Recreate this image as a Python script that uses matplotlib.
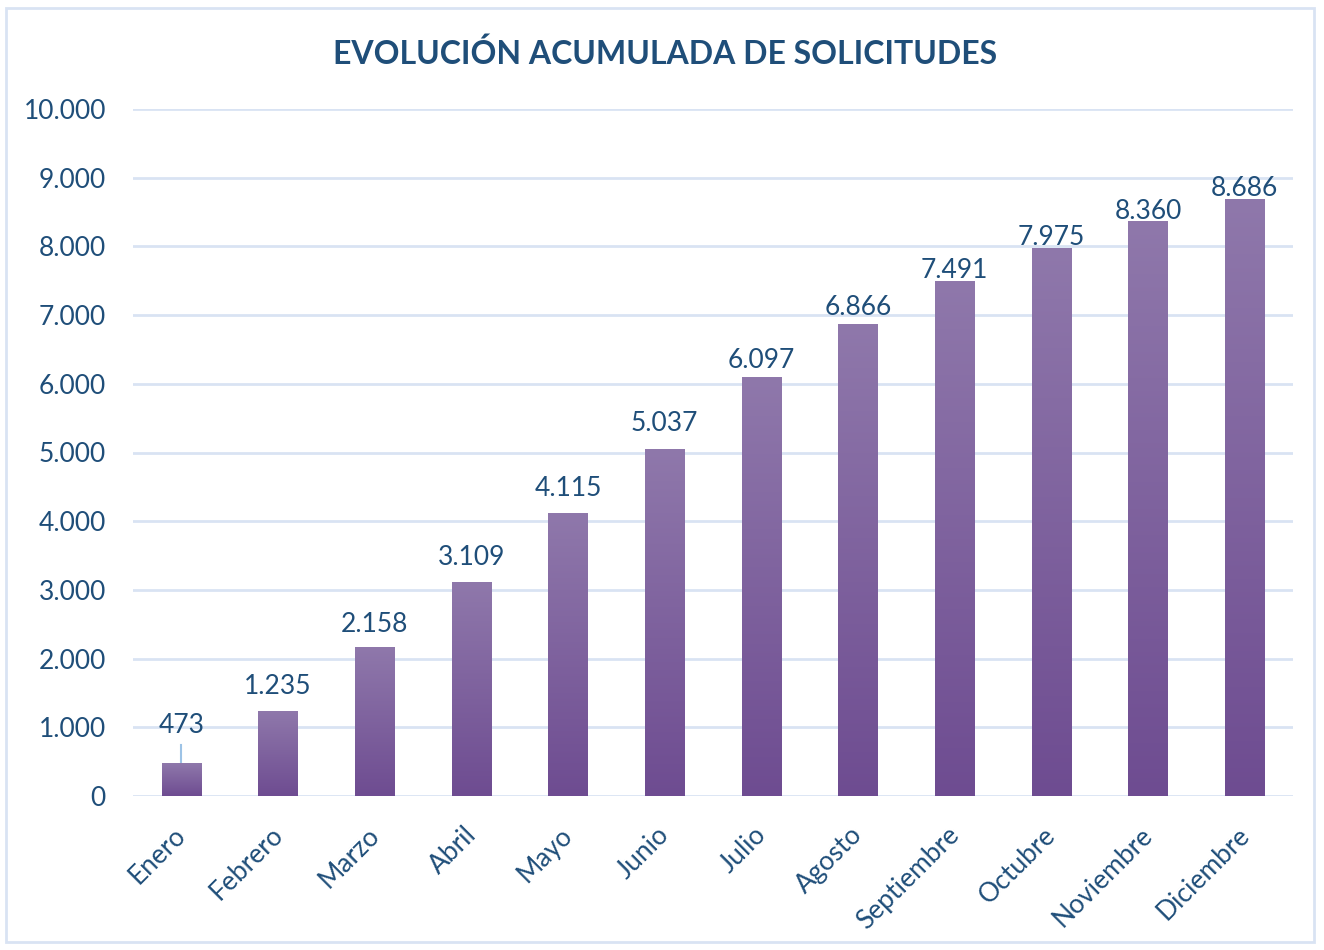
import matplotlib.pyplot as plt
import matplotlib.transforms as mtransforms
import numpy as np
from matplotlib.colors import LinearSegmentedColormap
from matplotlib.patches import Rectangle

meses = ['Enero', 'Febrero', 'Marzo', 'Abril', 'Mayo', 'Junio', 'Julio',
         'Agosto', 'Septiembre', 'Octubre', 'Noviembre', 'Diciembre']
solicitudes = [473, 1235, 2158, 3109, 4115, 5037, 6097, 6866, 7491, 7975, 8360, 8686]
yticks = [0, 1000, 2000, 3000, 4000, 5000, 6000, 7000, 8000, 9000, 10000]

# gap (points) between bar top and label centre, as placed in the original
label_gap = [0, 18, 17, 18, 18, 19, 12, 12, 8, 8, 7, 8]

TXT = '#1f4e79'
GRID = '#d9e3f3'

plt.rcParams['font.family'] = ['Lato', 'DejaVu Sans']


def fmt(v):
    # thousands separator with a dot
    return f'{v:,}'.replace(',', '.')


fig = plt.figure(figsize=(13.24, 9.5), dpi=100)
ax = fig.add_axes([133 / 1324, 1 - 796 / 950, (1293 - 133) / 1324, (796 - 109) / 950])

# outer frame of the chart area
fig.patches.append(Rectangle((6 / 1324, 8 / 950), 1308 / 1324, 934 / 950,
                             transform=fig.transFigure, fill=False,
                             edgecolor=GRID, linewidth=2))

cmap = LinearSegmentedColormap.from_list('barra', ['#6e4c91', '#8f78ab'])
grad = np.linspace(0, 1, 256).reshape(-1, 1)
x = np.arange(len(meses))
w = 0.41

for xi, v, gap in zip(x, solicitudes, label_gap):
    ax.imshow(grad, cmap=cmap, aspect='auto', origin='lower',
              extent=(xi - w / 2, xi + w / 2, 0, v), zorder=3)
    if xi == 0:
        # label moved up, with a leader line
        ax.plot([xi, xi], [v, v + 270], color='#9dc3e6', lw=1.5, zorder=2)
        ax.text(xi, v + 560, fmt(v), ha='center', va='center', fontsize=19, color=TXT)
    else:
        ax.annotate(fmt(v), (xi, v), xytext=(0, gap), textcoords='offset points',
                    ha='center', va='center', fontsize=19, color=TXT)

ax.set_xlim(-0.5, len(meses) - 0.5)
ax.set_ylim(0, 10000)
ax.set_yticks(yticks)
ax.set_yticklabels([fmt(t) for t in yticks], fontsize=19, color=TXT)
ax.set_xticks(x)
ax.set_xticklabels(meses, rotation=45, ha='right', va='top', rotation_mode='anchor',
                   fontsize=19, color=TXT)
ax.tick_params(axis='y', length=0, pad=19.5)
ax.tick_params(axis='x', length=0, pad=19)
shift = mtransforms.ScaledTranslation(-8 / 100, 0, fig.dpi_scale_trans)
for lbl in ax.get_xticklabels():
    lbl.set_transform(lbl.get_transform() + shift)
ax.grid(axis='y', color=GRID, linewidth=2, zorder=0)
for s in ax.spines.values():
    s.set_visible(False)

fig.text(665 / 1324, 1 - 54 / 950, 'EVOLUCIÓN ACUMULADA DE SOLICITUDES',
         ha='center', va='center', fontsize=23, fontweight='bold', color=TXT)

fig.savefig('out.png', dpi=100)
